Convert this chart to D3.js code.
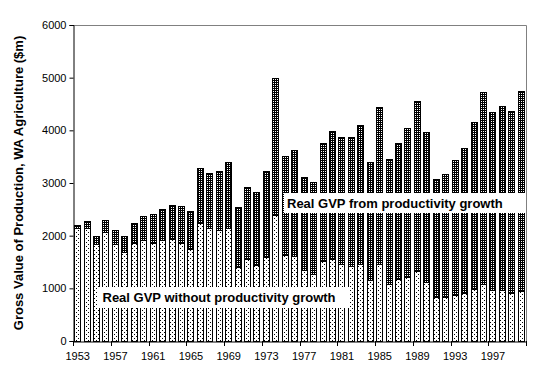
<!DOCTYPE html>
<html>
<head>
<meta charset="utf-8">
<script src="https://cdn.jsdelivr.net/npm/d3@7"></script>
<style>
  html, body { margin: 0; padding: 0; background: #fff; }
  svg { display: block; font-family: "Liberation Sans", Arial, sans-serif; }
</style>
</head>
<body>
<svg id="chart" width="541" height="383"></svg>
<script>
// ---- data ----
const years = d3.range(1953, 2001);
const withoutProductivity = [
  2140, 2140, 1840, 2070, 1840, 1690, 1860, 1910, 1870, 1910, 1930, 1860,
  1745, 2250, 2145, 2105, 2145, 1400, 1555, 1440, 1590, 2390, 1625, 1605,
  1345, 1270, 1515, 1565, 1460, 1420, 1460, 1155, 1460, 1090, 1175, 1210,
  1325, 1115, 830, 830, 870, 905, 985, 1080, 965, 965, 905, 945
];
const fromProductivity = [
  70, 140, 160, 230, 270, 310, 380, 470, 540, 595, 660, 710,
  730, 1040, 1050, 1130, 1260, 1150, 1375, 1395, 1645, 2610, 1895, 2030,
  1775, 1755, 2250, 2430, 2420, 2460, 2650, 2250, 2990, 2370, 2590, 2840,
  3240, 2860, 2250, 2345, 2575, 2765, 3180, 3655, 3390, 3505, 3470, 3810
];
const yTicks = [0, 1000, 2000, 3000, 4000, 5000, 6000];
const xLabelYears = years.filter((y, i) => i % 4 === 0 && y < 2000);
const seriesNames = ["Real GVP without productivity growth", "Real GVP from productivity growth"];
const yTitle = "Gross Value of Production, WA Agriculture ($m)";

// ---- layout ----
const svg = d3.select("#chart");
const L = 73, R = 526, T = 25, B = 341;

const table = years.map((y, i) => ({ year: y, lower: withoutProductivity[i], upper: fromProductivity[i] }));
const stacked = d3.stack().keys(["lower", "upper"])(table);

const x = d3.scaleBand().domain(years).range([L, R]).paddingInner(0.25).paddingOuter(0.125);
const y = d3.scaleLinear().domain([0, 6000]).range([B, T]);

// patterns
const defs = svg.append("defs");
const pLow = defs.append("pattern").attr("id", "pLow").attr("patternUnits", "userSpaceOnUse")
  .attr("width", 4).attr("height", 4);
pLow.append("rect").attr("width", 4).attr("height", 4).attr("fill", "#fff");
pLow.append("rect").attr("x", 0).attr("y", 0).attr("width", 1).attr("height", 1).attr("fill", "#000");
pLow.append("rect").attr("x", 2).attr("y", 2).attr("width", 1).attr("height", 1).attr("fill", "#000");

const pUp = defs.append("pattern").attr("id", "pUp").attr("patternUnits", "userSpaceOnUse")
  .attr("width", 2).attr("height", 2);
pUp.append("rect").attr("width", 2).attr("height", 2).attr("fill", "#000");
pUp.append("rect").attr("x", 1).attr("y", 1).attr("width", 1).attr("height", 1).attr("fill", "#fff");

const fills = ["url(#pLow)", "url(#pUp)"];

// plot frame (grey top and right)
svg.append("path")
  .attr("d", `M${L},${T + 0.5}H${R + 0.5}V${B}`)
  .attr("fill", "none").attr("stroke", "#808080").attr("stroke-width", 1);

// bars
svg.append("g").selectAll("g").data(stacked).join("g")
  .attr("fill", (d, i) => fills[i])
  .selectAll("rect").data(d => d).join("rect")
  .attr("x", d => Math.round(x(d.data.year)) + 0.5)
  .attr("width", Math.round(x.bandwidth()) - 1)
  .attr("y", d => Math.round(y(d[1])) + 0.5)
  .attr("height", d => Math.max(0, Math.round(y(d[0])) - Math.round(y(d[1]))))
  .attr("stroke", "#000").attr("stroke-width", 1);

// y axis
const yAxis = svg.append("g").attr("transform", `translate(${L + 0.5},0)`)
  .call(d3.axisLeft(y).tickValues(yTicks).tickSize(4).tickPadding(3).tickFormat(d3.format("d")));
yAxis.select(".domain").attr("stroke", "#000");
yAxis.selectAll("text").attr("font-size", "11px").attr("fill", "#000")
  .attr("font-family", "Liberation Sans, Arial, sans-serif");

// x axis: labels
const xAxis = svg.append("g").attr("transform", `translate(0,${B + 0.5})`)
  .call(d3.axisBottom(x).tickValues(xLabelYears).tickSize(0).tickPadding(11));
xAxis.select(".domain").attr("stroke", "#000").attr("d", `M${L},0.5H${R + 0.5}`);
xAxis.selectAll("text").attr("font-size", "11px").attr("fill", "#000")
  .attr("font-family", "Liberation Sans, Arial, sans-serif");

// x axis: boundary ticks every 4 categories
const step = x.step();
const bounds = d3.range(0, years.length + 1, 4).map(i => x.range()[0] + i * step);
svg.append("g").selectAll("line").data(bounds).join("line")
  .attr("x1", d => Math.round(d) + 0.5).attr("x2", d => Math.round(d) + 0.5)
  .attr("y1", B).attr("y2", B + 5)
  .attr("stroke", "#000");

// y title
svg.append("text")
  .attr("transform", `translate(23,${(T + B) / 2}) rotate(-90)`)
  .attr("text-anchor", "middle")
  .attr("font-size", "13px").attr("font-weight", "bold")
  .text(yTitle);

// series labels (text boxes)
const labels = [
  { text: seriesNames[1], bx: 284, by: 193, bw: 242, bh: 20, tx: 287, ty: 207.5 },
  { text: seriesNames[0], bx: 97, by: 287, bw: 253, bh: 21, tx: 102.5, ty: 302 }
];
const lg = svg.append("g");
labels.forEach(l => {
  lg.append("rect").attr("x", l.bx).attr("y", l.by).attr("width", l.bw).attr("height", l.bh).attr("fill", "#fff");
  lg.append("text").attr("x", l.tx).attr("y", l.ty)
    .attr("font-size", "13px").attr("font-weight", "bold").attr("fill", "#000")
    .text(l.text);
});
</script>
</body>
</html>
